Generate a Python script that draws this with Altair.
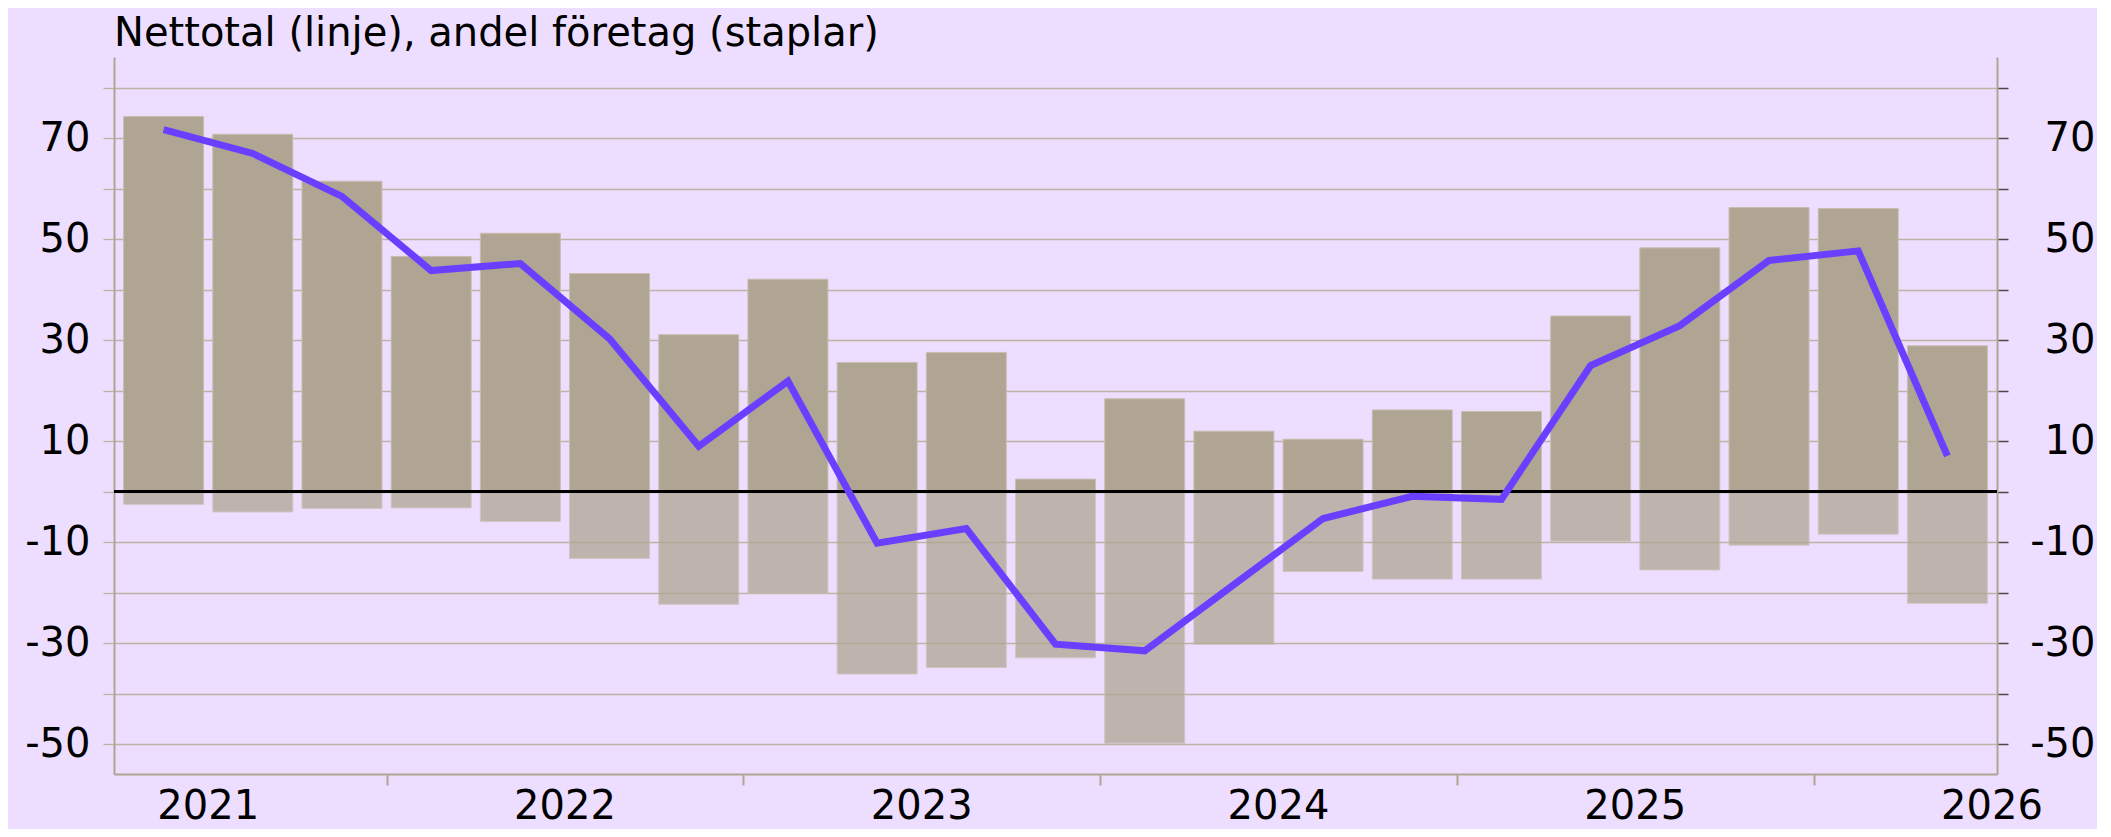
import altair as alt
import pandas as pd

# ---- data ----
periods = ["2021Q2", "2021Q3", "2021Q4",
           "2022Q1", "2022Q2", "2022Q3", "2022Q4",
           "2023Q1", "2023Q2", "2023Q3", "2023Q4",
           "2024Q1", "2024Q2", "2024Q3", "2024Q4",
           "2025Q1", "2025Q2", "2025Q3", "2025Q4",
           "2026Q1", "2026Q2"]
positive = [74.3, 70.8, 61.5, 46.6, 51.2, 43.2, 31.1, 42.1, 25.6, 27.6, 2.5,
            18.4, 12.0, 10.4, 16.2, 15.9, 34.8, 48.3, 56.3, 56.1, 28.9]
negative = [-2.5, -4.0, -3.3, -3.2, -5.9, -13.2, -22.3, -20.1, -36.1, -34.8, -32.9,
            -49.8, -30.2, -15.8, -17.3, -17.3, -9.8, -15.5, -10.6, -8.4, -22.1]
net = [71.7, 67.0, 58.5, 43.8, 45.2, 30.3, 9.0, 21.9, -10.2, -7.3, -30.2,
       -31.5, -18.4, -5.3, -0.9, -1.5, 25.0, 32.9, 45.8, 47.7, 7.1]
years = ["2021", "2022", "2023", "2024", "2025", "2026"]
y_ticks = [-50, -40, -30, -20, -10, 0, 10, 20, 30, 40, 50, 60, 70, 80]
title_text = ["Nettotal (linje), andel företag (staplar)"]

# ---- tables ----
first_year = int(periods[0][:4])
first_q = int(periods[0][-1])
df = pd.DataFrame({"period": periods, "pos": positive, "neg": negative, "net": net})
df["i"] = [(int(p[:4]) - first_year) * 4 + int(p[-1]) - first_q for p in periods]
ydf = pd.DataFrame({"year": years})
ydf["mid"] = [(int(y) - first_year) * 4 + 1 - first_q + 1.5 for y in years]
boundaries = [m + 2 for m in ydf["mid"].tolist()[:-1]]
tdf = pd.DataFrame({"t": title_text})

FONT = "DejaVu Sans"
TAN = "#b0a592"
GRID = "#bfb2a4"
BG = "#eddeff"
W, H = 1883, 717

xdom = [-0.5, len(periods) - 0.5]
xscale = alt.Scale(domain=xdom, nice=False, zero=False)
yscale = alt.Scale(domain=[-55.9, 86.1], nice=False, zero=False)

x_axis = alt.Axis(values=boundaries, labels=False, title=None, grid=False,
                  tickSize=11, tickColor=TAN, tickWidth=2,
                  domainColor=TAN, domainWidth=2)
x_enc = alt.X("i:Q", scale=xscale, axis=x_axis)

label_expr = "(datum.value + 10) % 20 == 0 ? '' + datum.value : ''"
left_axis = alt.Axis(values=y_ticks, title=None, orient="left",
                     labelExpr=label_expr,
                     labelFont=FONT, labelFontSize=40, labelColor="#000000",
                     labelPadding=13, tickSize=11, tickColor=GRID, tickWidth=1.3,
                     grid=True, gridColor=GRID, gridWidth=1.3,
                     domainColor=TAN, domainWidth=2)
right_axis = alt.Axis(values=y_ticks, title=None, orient="right",
                      labelExpr=label_expr,
                      labelFont=FONT, labelFontSize=40, labelColor="#000000",
                      labelAlign="right", labelPadding=87,
                      tickSize=11, tickColor="#4a4a4a", tickWidth=1.5,
                      grid=False, domainColor=TAN, domainWidth=2)

base = alt.Chart(df)

pos_bars = base.mark_bar(width=80, color=TAN, stroke="#c9bdb1", strokeWidth=1).encode(
    x=x_enc,
    y=alt.Y("pos:Q", scale=yscale, axis=left_axis),
)
neg_bars = base.mark_bar(width=80, color=TAN, opacity=0.75, stroke="#c9bdb1",
                         strokeWidth=1).encode(
    x=x_enc,
    y=alt.Y("neg:Q", scale=yscale, axis=right_axis),
)
zero = base.mark_rule(color="#000000", strokeWidth=2).encode(
    x=alt.value(0), x2=alt.value(W),
    y=alt.Y(datum=0, scale=yscale, axis=None),
)
line = base.mark_line(color="#6b3fff", strokeWidth=7, strokeJoin="miter").encode(
    x=x_enc,
    y=alt.Y("net:Q", scale=yscale, axis=None),
)
year_labels = alt.Chart(ydf).mark_text(
    font=FONT, fontSize=40, color="#000000", align="center", baseline="alphabetic"
).encode(
    x=alt.X("mid:Q", scale=xscale, axis=x_axis),
    y=alt.value(H + 45),
    text="year:N",
)
title = alt.Chart(tdf).mark_text(
    font=FONT, fontSize=40, color="#000000", align="left", baseline="alphabetic"
).encode(
    x=alt.value(0),
    y=alt.value(-11),
    text="t:N",
)

chart = (
    alt.layer(pos_bars, neg_bars, zero, line, year_labels, title)
    .resolve_axis(y="independent")
    .properties(
        width=W, height=H,
        autosize=alt.AutoSizeParams(type="none"),
        padding={"left": 106, "top": 49, "right": 100, "bottom": 55},
        background=BG,
    )
    .configure_view(stroke=None)
)

chart.save("out.html", embed_options={"renderer": "svg", "actions": False})
